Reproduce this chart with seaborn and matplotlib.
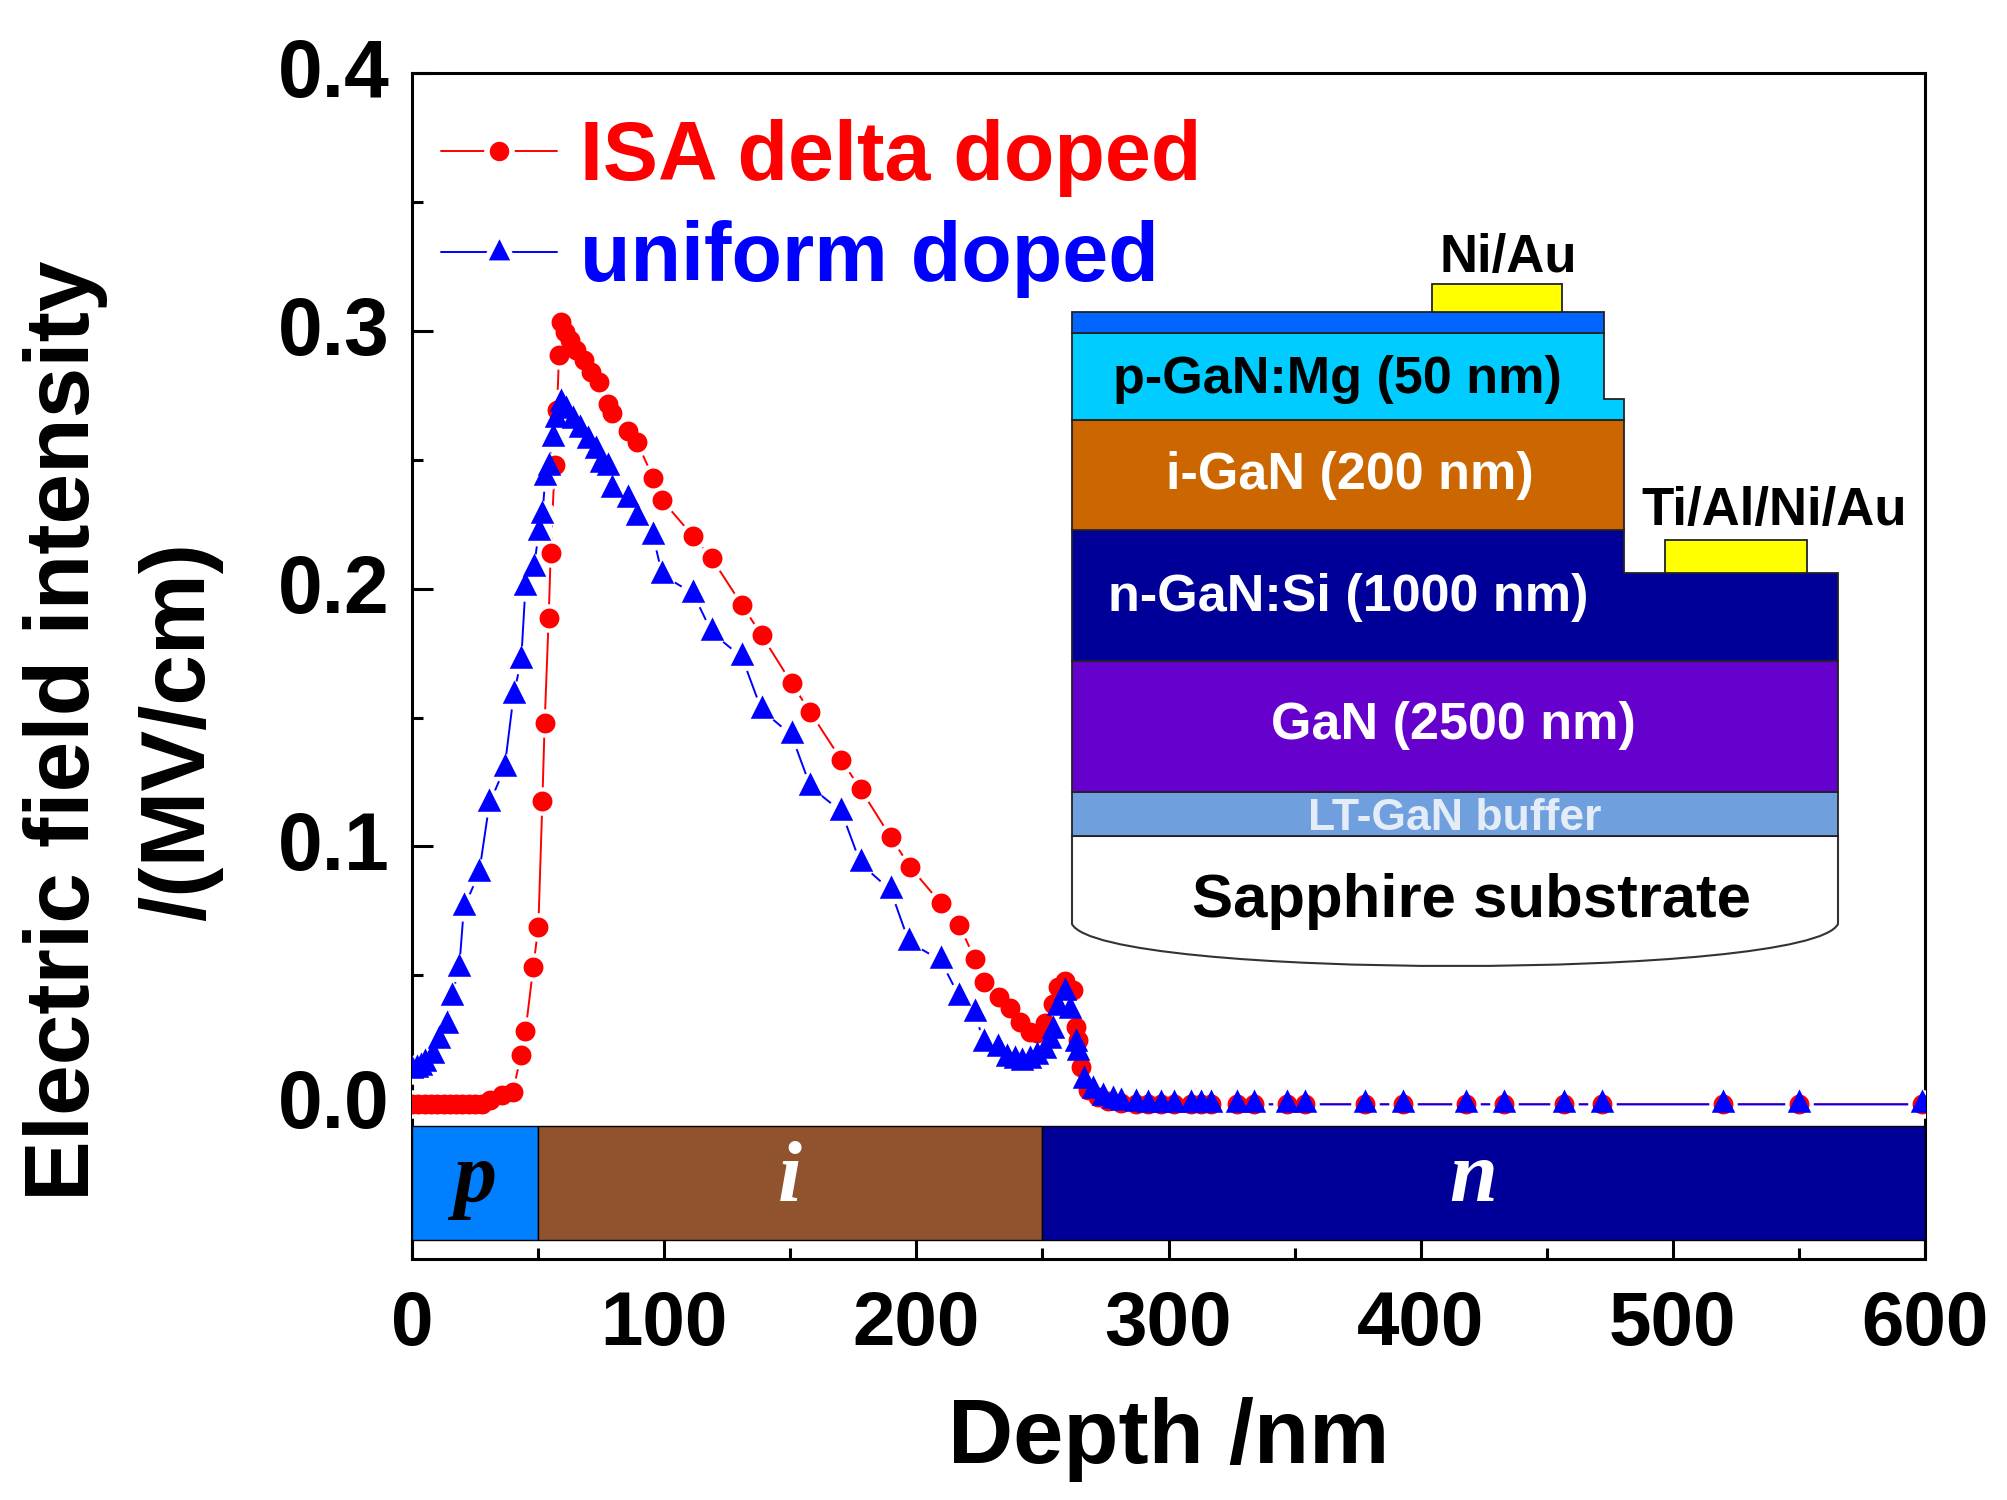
import matplotlib
matplotlib.use("Agg")
import matplotlib.pyplot as plt
import pandas as pd
import seaborn as sns
from matplotlib.lines import Line2D
from matplotlib.patches import PathPatch, Polygon, Rectangle
from matplotlib.path import Path
from matplotlib.ticker import FixedLocator
from matplotlib.transforms import ScaledTranslation

# values
delta_depth = [0, 2.5, 5, 7.5, 10, 12.5, 15, 17.5, 20, 22.5, 25, 27.8, 31, 35.5, 40, 43.2, 45,
               48.1, 50.1, 51.7, 52.6, 54.2, 55, 56.6, 57.5, 58.3, 58.9, 60.8, 62.5, 65.2, 68.4,
               71.1, 74, 77.7, 79.3, 85.7, 89.2, 95.6, 99.3, 111.5, 118.9, 130.9, 138.6, 150.5,
               158, 170.3, 177.9, 189.8, 197.5, 209.6, 217.1, 223.2, 226.9, 232.9, 237, 241, 245,
               248, 251, 254, 256, 258.8, 262, 263.4, 264.3, 265.4, 268, 272, 276, 281, 287,
               292, 297, 302, 309, 313, 317, 327, 334, 347, 354, 378, 393, 418, 433, 457, 472,
               520, 550, 599]
delta_field = [0, 0, 0, 0, 0, 0, 0, 0, 0, 0, 0, 0.0003, 0.0016, 0.0035, 0.0048, 0.019, 0.0283,
               0.0533, 0.0688, 0.1176, 0.1477, 0.1885, 0.2137, 0.2479, 0.2693, 0.2906, 0.3035,
               0.2995, 0.2964, 0.2925, 0.2886, 0.2841, 0.2802, 0.2718, 0.268, 0.2613, 0.257,
               0.243, 0.2342, 0.2203, 0.2117, 0.1936, 0.182, 0.1634, 0.152, 0.1335, 0.1222,
               0.1037, 0.0921, 0.0781, 0.0694, 0.0563, 0.0475, 0.0416, 0.0372, 0.0319, 0.028,
               0.0275, 0.0314, 0.039, 0.0455, 0.048, 0.0442, 0.03, 0.0249, 0.0145, 0.0055,
               0.003, 0.0012, 0.0005, 0, 0, 0, 0, 0, 0, 0, 0, 0, 0, 0, 0, 0, 0, 0, 0, 0, 0, 0, 0]

uniform_depth = [0, 2, 3.5, 5.2, 8.2, 10.8, 13.9, 15.7, 18.7, 20.6, 26.6, 30.7, 36.7, 40.3, 43.3,
                 45, 48.3, 50.3, 51.7, 52.9, 54.2, 55.9, 57.2, 58.9, 61.2, 63.8, 66.5, 69.8, 73,
                 75, 77.7, 79.3, 85.7, 89.2, 95.6, 99.3, 111.5, 118.9, 130.9, 138.6, 150.5, 158,
                 170.3, 177.9, 189.8, 197.1, 209.6, 217.1, 223.2, 226.9, 232.3, 236, 239, 242,
                 245, 248, 251.2, 253, 254, 256.2, 258.8, 261, 263.4, 264.3, 266.3, 270, 274,
                 278, 281, 287, 292, 297, 302, 309, 313, 317, 327, 334, 347, 354, 378, 393, 418,
                 433, 457, 472, 520, 550, 599]
uniform_field = [0.0134, 0.0137, 0.0145, 0.0159, 0.019, 0.0248, 0.0306, 0.0416, 0.0527, 0.0764,
                 0.0896, 0.1167, 0.1303, 0.1587, 0.1723, 0.2006, 0.208, 0.2219, 0.2285, 0.2433,
                 0.2472, 0.2584, 0.2658, 0.272, 0.2692, 0.2653, 0.262, 0.2577, 0.2538, 0.2485,
                 0.2472, 0.2388, 0.2349, 0.2279, 0.2203, 0.2053, 0.1981, 0.183, 0.1733, 0.153,
                 0.1432, 0.1232, 0.1135, 0.0934, 0.083, 0.0629, 0.0559, 0.0416, 0.0353, 0.0237,
                 0.0217, 0.0178, 0.0171, 0.0165, 0.0171, 0.0186, 0.021, 0.0248, 0.029, 0.0377,
                 0.0435, 0.0365, 0.0237, 0.0204, 0.0093, 0.0055, 0.003, 0.0016, 0.001, 0.0005,
                 0, 0, 0, 0, 0, 0, 0, 0, 0, 0, 0, 0, 0, 0, 0, 0, 0, 0, 0]

region_names = ["p", "i", "n"]
region_start = [0, 50, 250]
region_end = [50, 250, 600]
region_colors = ["#0080FF", "#91532D", "#000099"]
region_text_colors = ["black", "white", "white"]

x_ticks = [0, 100, 200, 300, 400, 500, 600]
y_ticks = [0.0, 0.1, 0.2, 0.3, 0.4]

sns.set_style("ticks")
plt.rcParams["font.family"] = ["Liberation Sans", "DejaVu Sans"]
plt.rcParams["font.weight"] = "bold"
plt.rcParams["axes.labelweight"] = "bold"
plt.rcParams["text.color"] = "black"
plt.rcParams["axes.labelcolor"] = "black"
plt.rcParams["axes.edgecolor"] = "black"
plt.rcParams["xtick.color"] = "black"
plt.rcParams["ytick.color"] = "black"

delta = pd.DataFrame({"depth": delta_depth, "field": delta_field})
uniform = pd.DataFrame({"depth": uniform_depth, "field": uniform_field})

# triangle sits on its centroid like the original symbol, not on its box centre
tri = Path([(-0.78, -0.55), (0.78, -0.55), (0, 1), (-0.78, -0.55)], closed=True)

fig = plt.figure(figsize=(20.08, 15), dpi=100)
ax = fig.add_axes([412 / 2008, (1500 - 1259) / 1500, 1513 / 2008, 1186 / 1500])

# line, then a white halo so the line stops short of each symbol
sns.lineplot(data=delta, x="depth", y="field", color="#FF0000", lw=1.4, ax=ax, zorder=4, sort=False)
sns.scatterplot(data=delta, x="depth", y="field", color="white", s=420, lw=0, ax=ax, zorder=4.1)
sns.lineplot(data=uniform, x="depth", y="field", color="#0000FF", lw=1.4, ax=ax, zorder=4.2, sort=False)
sns.scatterplot(data=uniform, x="depth", y="field", color="white", s=420, lw=0, ax=ax, zorder=4.3)
sns.scatterplot(data=delta, x="depth", y="field", color="#FF0000", s=205, lw=0, ax=ax, zorder=5)
sns.scatterplot(data=uniform, x="depth", y="field", color="#0000FF", marker=tri, s=470, lw=0, ax=ax, zorder=6)

# p / i / n strip under the curves
ax.barh([-0.0306] * 3, [e - s for s, e in zip(region_start, region_end)], height=0.0442,
        left=region_start, color=region_colors, edgecolor="black", lw=1, zorder=3)
for name, s, e, col in zip(region_names, region_start, region_end, region_text_colors):
    ax.text((s + e) / 2 - (4 if name == "n" else 0), -0.0295, name, color=col, ha="center", va="center",
            family="Liberation Serif", style="italic", weight="bold", fontsize=62, zorder=7)

ax.set_xlim(0, 600)
ax.set_ylim(-0.06, 0.4)
ax.set_xticks(x_ticks)
ax.set_yticks(y_ticks)
ax.set_xticklabels([str(t) for t in x_ticks])
ax.set_yticklabels([f"{t:.1f}" for t in y_ticks], va="center_baseline")
ax.xaxis.set_minor_locator(FixedLocator([50, 150, 250, 350, 450, 550]))
ax.yaxis.set_minor_locator(FixedLocator([0.05, 0.15, 0.25, 0.35]))
ax.tick_params(which="major", direction="in", length=15, width=2.2)
ax.tick_params(axis="x", which="major", pad=22, labelsize=55)
ax.tick_params(axis="y", which="major", pad=16, labelsize=58)
ax.tick_params(which="minor", direction="in", length=8, width=2.2)
for sp in ax.spines.values():
    sp.set_linewidth(2.2)
    sp.set_visible(True)

# nudge the y tick labels up a little, they sit higher than the ticks in the original
nudge = ScaledTranslation(0, 4 / 72, fig.dpi_scale_trans)
for lab in ax.get_yticklabels():
    lab.set_transform(lab.get_transform() + nudge)

ax.set_xlabel("Depth /nm", fontsize=65, labelpad=26)
ax.set_ylabel("Electric field intensity\n/(MV/cm)", fontsize=65.5, linespacing=1.45, va="center")
ax.yaxis.set_label_coords(-0.191, 0.445)

handles = [
    Line2D([], [], color="#FF0000", lw=1.4, marker="o", ms=18, mfc="#FF0000", mec="white", mew=4),
    Line2D([], [], color="#0000FF", lw=1.4, marker=tri, ms=28, mfc="#0000FF", mec="white", mew=4),
]
ax.legend(handles, ["ISA delta doped", "uniform doped"], loc="upper left", bbox_to_anchor=(0.019, 0.961),
          frameon=False, fontsize=59.5, labelcolor=["#FF0000", "#0000FF"], handlelength=1.41,
          handletextpad=0.27, labelspacing=0.28, borderaxespad=0, borderpad=0)

# device stack, drawn on an overlay measured in figure pixels
diag = fig.add_axes([0, 0, 1, 1])
diag.set_xlim(0, 2008)
diag.set_ylim(1500, 0)
diag.axis("off")
diag.patch.set_visible(False)


def layer(points, color):
    diag.add_patch(Polygon(points, closed=True, facecolor=color, edgecolor="#222222", lw=1.3))


sub_path = Path([(1072, 836), (1072, 924), (1100, 980), (1810, 980), (1838, 924), (1838, 836), (1072, 836)],
                [Path.MOVETO, Path.LINETO, Path.CURVE4, Path.CURVE4, Path.CURVE4, Path.LINETO, Path.CLOSEPOLY])
diag.add_patch(PathPatch(sub_path, facecolor="white", edgecolor="#333333", lw=1.5))
layer([(1072, 792), (1838, 792), (1838, 836), (1072, 836)], "#6F9FDD")
layer([(1072, 661), (1838, 661), (1838, 792), (1072, 792)], "#6600CC")
layer([(1072, 530), (1624, 530), (1624, 573), (1838, 573), (1838, 661), (1072, 661)], "#000099")
layer([(1072, 420), (1624, 420), (1624, 530), (1072, 530)], "#CC6600")
layer([(1072, 333), (1604, 333), (1604, 399), (1624, 399), (1624, 420), (1072, 420)], "#00CCFF")
layer([(1072, 312), (1604, 312), (1604, 333), (1072, 333)], "#0066FF")
diag.add_patch(Rectangle((1432, 284), 130, 28, facecolor="#FFFF00", edgecolor="#222222", lw=1.3))
diag.add_patch(Rectangle((1665, 540), 142, 33, facecolor="#FFFF00", edgecolor="#222222", lw=1.3))

labels = [
    (1508, 258, "Ni/Au", "black", 38),
    (1774, 511, "Ti/Al/Ni/Au", "black", 38),
    (1337, 380, "p-GaN:Mg (50 nm)", "black", 37.5),
    (1350, 476, "i-GaN (200 nm)", "white", 37.5),
    (1348, 598, "n-GaN:Si (1000 nm)", "white", 37.5),
    (1453, 725, "GaN (2500 nm)", "white", 37.5),
    (1455, 819, "LT-GaN buffer", "#E4ECF8", 32),
    (1472, 902, "Sapphire substrate", "black", 44.5),
]
for x, y, txt, col, size in labels:
    diag.text(x, y, txt, color=col, fontsize=size, ha="center", va="center")

fig.savefig("out.png", dpi=100)
